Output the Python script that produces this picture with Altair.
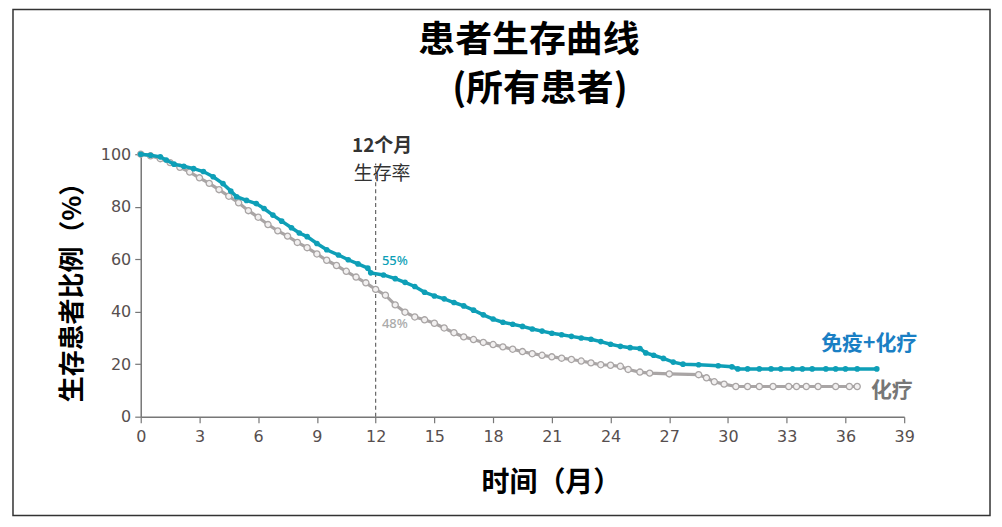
import altair as alt
import pandas as pd

# Immunotherapy + chemotherapy (teal) curve: months, survival %
io_t = [0, 0.5, 1.0, 1.3, 1.7, 2.2, 2.7, 3.2, 3.7, 4.2, 4.6, 4.9, 5.4, 5.9, 6.3, 6.75,
        7.2, 7.7, 8.1, 8.5, 9.0, 9.5, 10.1, 10.6, 11.1, 11.6, 11.75, 12.4, 13.0, 13.5,
        14.0, 14.5, 15.0, 15.5, 16.0, 16.5, 17.0, 17.5, 18.0, 18.5, 19.0, 19.5, 20.0,
        20.5, 21.0, 21.5, 22.0, 22.5, 23.0, 23.5, 24.0, 24.5, 25.0, 25.5, 25.8, 26.2,
        26.7, 27.2, 27.7, 28.5, 29.5, 30.2, 30.5, 31.0, 31.6, 32.2, 32.7, 33.3, 33.8,
        34.3, 35.0, 35.5, 36.0, 36.6, 37.6]
io_s = [100, 99.6, 99.0, 97.8, 96.2, 95.4, 94.5, 93.4, 91.4, 88.8, 86.0, 83.8, 82.4, 81.2,
        79.3, 76.8, 74.5, 72.0, 70.0, 68.6, 66.0, 63.6, 61.6, 59.8, 58.2, 56.6, 54.8, 54.0,
        52.6, 51.2, 49.6, 47.4, 46.0, 44.9, 43.5, 42.2, 40.6, 38.8, 37.2, 36.0, 35.2, 34.4,
        33.4, 32.6, 31.8, 31.2, 30.6, 30.0, 29.5, 28.6, 27.6, 26.8, 26.3, 26.0, 24.3, 23.4,
        22.2, 20.8, 20.0, 19.8, 19.4, 19.0, 18.2, 18.2, 18.2, 18.2, 18.2, 18.2, 18.2, 18.2,
        18.2, 18.2, 18.2, 18.2, 18.2]

# Chemotherapy (gray) curve
ch_t = [0, 0.5, 1.0, 1.5, 2.0, 2.5, 3.0, 3.5, 4.0, 4.5, 5.0, 5.5, 6.0, 6.5, 7.0, 7.5, 8.0,
        8.5, 9.0, 9.5, 10.0, 10.5, 11.0, 11.5, 12.0, 12.5, 13.0, 13.5, 14.0, 14.5, 15.0,
        15.5, 16.0, 16.5, 17.0, 17.5, 18.0, 18.5, 19.0, 19.5, 20.0, 20.5, 21.0, 21.5, 22.0,
        22.5, 23.0, 23.5, 24.0, 24.5, 24.9, 25.5, 26.0, 27.0, 28.5, 28.9, 29.3, 29.8, 30.4,
        31.0, 31.6, 32.3, 33.1, 33.5, 34.0, 34.6, 35.5, 36.2, 36.6]
ch_s = [100, 99.4, 98.3, 96.8, 95.0, 93.2, 91.0, 88.9, 86.5, 84.0, 81.5, 78.5, 76.0, 73.2,
        70.8, 68.8, 66.4, 64.4, 62.0, 59.6, 57.6, 55.4, 53.2, 51.0, 48.5, 46.3, 42.6, 39.8,
        38.0, 36.9, 35.6, 33.8, 32.0, 30.4, 29.4, 28.3, 27.5, 26.6, 25.7, 24.8, 24.0, 23.4,
        22.8, 22.3, 21.8, 21.2, 20.5, 19.8, 19.6, 19.2, 18.0, 17.0, 16.6, 16.3, 16.0, 14.8,
        13.3, 12.4, 11.5, 11.5, 11.5, 11.5, 11.5, 11.5, 11.5, 11.5, 11.5, 11.5, 11.5]

x_ticks = list(range(0, 40, 3))
y_ticks = [0, 20, 40, 60, 80, 100]
title_lines = ["患者生存曲线", "(所有患者)"]

TEAL = "#0e9fb7"
GRAY = "#a9a5a5"
CJK = "Noto Sans CJK SC"

io_df = pd.DataFrame({"t": io_t, "s": io_s})
ch_df = pd.DataFrame({"t": ch_t, "s": ch_s})

xs = alt.Scale(domain=[0, 39], nice=False, zero=False)
ys = alt.Scale(domain=[0, 100], nice=False)

x_enc = alt.X("t:Q", scale=xs, axis=alt.Axis(
    values=x_ticks, title="时间（月）", titleFont=CJK, titleFontSize=28,
    titleFontWeight="bold", titleColor="#000", titlePadding=25, titleX=411,
    labelFont="DejaVu Sans", labelFontSize=16, labelColor="#574f4f", labelPadding=6,
    tickSize=6, tickColor="#777", domainColor="#777", domainWidth=1.5,
    tickWidth=1.2, grid=False, labelFlush=False))
y_enc = alt.Y("s:Q", scale=ys, axis=alt.Axis(
    values=y_ticks, title="生存患者比例（%）", titleFont=CJK, titleFontSize=26,
    titleFontWeight="bold", titleColor="#000", titlePadding=15,
    labelFont="DejaVu Sans", labelFontSize=16, labelColor="#574f4f", labelPadding=4,
    tickSize=6, tickColor="#777", domainColor="#777", domainWidth=1.5,
    tickWidth=1.2, grid=False))

ch_line = alt.Chart(ch_df).mark_line(color=GRAY, strokeWidth=3.2).encode(x=x_enc, y=y_enc)
ch_pts = alt.Chart(ch_df).mark_point(shape="circle", filled=False, color=GRAY,
                                     fill="#f2f0f0", fillOpacity=1, strokeWidth=1.3,
                                     size=38, opacity=1).encode(x="t:Q", y="s:Q")
io_line = alt.Chart(io_df).mark_line(color=TEAL, strokeWidth=3.5).encode(x="t:Q", y="s:Q")
io_pts = alt.Chart(io_df).mark_circle(color=TEAL, size=32, opacity=1).encode(
    x="t:Q", y="s:Q")

rule_df = pd.DataFrame({"t": [12], "s0": [0], "s1": [96.5]})
rule = alt.Chart(rule_df).mark_rule(color="#666", strokeDash=[4, 3],
                                    strokeWidth=1.2).encode(x="t:Q", y="s0:Q", y2="s1:Q")

ann_df = pd.DataFrame({
    "t": [12.33, 12.33],
    "s": [103.0, 92.6],
    "txt": ["12个月", "生存率"],
})
ann_bold = alt.Chart(ann_df.iloc[[0]]).mark_text(font=CJK, fontSize=19, fontWeight="bold",
                                                 color="#333", align="center",
                                                 baseline="middle").encode(
    x="t:Q", y="s:Q", text="txt:N")
ann_norm = alt.Chart(ann_df.iloc[[1]]).mark_text(font=CJK, fontSize=19, color="#333",
                                                 align="center", baseline="middle").encode(
    x="t:Q", y="s:Q", text="txt:N")

pct_df = pd.DataFrame({"t": [12.32, 12.32], "s": [59.5, 35.4], "txt": ["55%", "48%"],
                       "c": [TEAL, "#aaaaaa"]})
pct = alt.Chart(pct_df).mark_text(font="Noto Sans", fontSize=13, fontWeight=500,
                                  align="left", baseline="middle").encode(
    x="t:Q", y="s:Q", text="txt:N", color=alt.Color("c:N", scale=None))

lab_df = pd.DataFrame({"t": [34.76, 37.3], "s": [27.8, 9.9], "txt": ["免疫+化疗", "化疗"],
                       "c": ["#1a7fc4", "#777777"]})
labs = alt.Chart(lab_df).mark_text(font=CJK, fontSize=21, fontWeight="bold",
                                   align="left", baseline="middle").encode(
    x="t:Q", y="s:Q", text="txt:N", color=alt.Color("c:N", scale=None))

# chart title (two lines), placed above the plot area
title1 = alt.Chart(pd.DataFrame({"txt": [title_lines[0]]})).mark_text(
    font=CJK, fontSize=37, fontWeight="bold", color="#000", align="center",
    baseline="middle").encode(x=alt.value(389), y=alt.value(-113), text="txt:N")
title2 = alt.Chart(pd.DataFrame({"txt": [title_lines[1]]})).mark_text(
    font=CJK, fontSize=37, fontWeight="bold", color="#000", align="center",
    baseline="middle").encode(x=alt.value(400), y=alt.value(-64), text="txt:N")

frame = alt.Chart(pd.DataFrame({"a": [0]})).mark_rect(
    fillOpacity=0, stroke="#333", strokeWidth=1.5).encode(
    x=alt.value(-128), x2=alt.value(851), y=alt.value(-145), y2=alt.value(362))

chart = alt.layer(
    frame, rule, ch_line, ch_pts, io_line, io_pts, ann_bold, ann_norm, pct, labs,
    title1, title2
).properties(
    width=765, height=263,
    autosize=alt.AutoSizeParams(type="none"),
    padding={"left": 133, "top": 146, "right": 90, "bottom": 102},
).configure_view(stroke=None)

chart.save("out.html", embed_options={"renderer": "svg", "actions": False})
